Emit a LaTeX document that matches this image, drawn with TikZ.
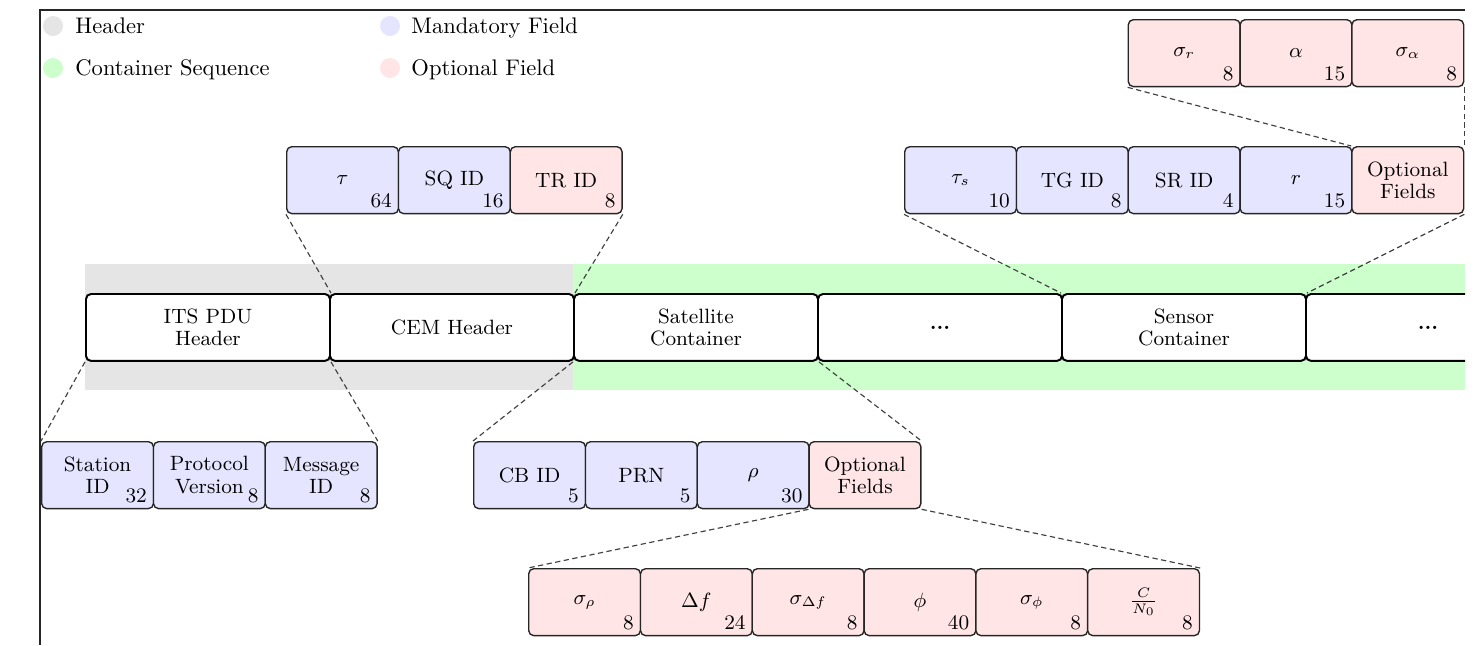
\documentclass[tikz,border=0pt]{standalone}
\usepackage{amsmath}
\tikzset{
  fieldbox/.style={draw=black!85, line width=0.6pt, rounded corners=2.2pt,
    minimum width=48.6pt, minimum height=29.1pt, inner sep=0pt,
    align=center, anchor=north west, font=\fontsize{9}{9.7}\selectfont},
  mand/.style={fieldbox, fill=blue!10},
  opt/.style={fieldbox, fill=red!10},
  seg/.style={fieldbox, fill=white, draw=black, line width=0.85pt,
    minimum width=106.1pt},
  bits/.style={label={[anchor=south east, inner xsep=3pt, inner ysep=2.6pt,
    font=\fontsize{9}{9.7}\selectfont]south east:#1}},
  zoomline/.style={black!75, line width=0.5pt, dash pattern=on 2.3pt off 1.5pt},
  legdot/.style={circle, minimum size=8.7pt, inner sep=0pt},
  legtext/.style={anchor=base west, inner sep=0pt, font=\fontsize{9.8}{12}\selectfont},
}
\begin{document}
\begin{tikzpicture}[x=0.4348pt, y=-0.4348pt]
\useasboundingbox (0,0) rectangle (1475,645);
\begin{scope}
\clip (0,0) rectangle (1465,645);

% frame
\draw[black!85, line width=0.8pt] (40,645) -- (40,10) -- (1465,10);

% legend
\node[legdot, fill=gray!20]  (lgh) at (53,26) {};
\node[legtext] (lght) at (75,33) {Header};
\node[legdot, fill=green!20] (lgc) at (53,68) {};
\node[legtext] (lgct) at (75,75) {Container Sequence};
\node[legdot, fill=blue!10]  (lgm) at (390,26) {};
\node[legtext] (lgmt) at (411,33) {Mandatory Field};
\node[legdot, fill=red!10]   (lgo) at (390,68) {};
\node[legtext] (lgot) at (411,75) {Optional Field};

% background bands
\fill[gray!20]  (85,264) rectangle (573,390);
\fill[green!20] (573,264) rectangle (1465,390);

% message segments
\node[seg] (m1) at (85,293)   {ITS PDU\\Header};
\node[seg] (m2) at (329,293)  {CEM Header};
\node[seg] (m3) at (573,293)  {Satellite\\Container};
\node[seg] (m4) at (817,293)  {\textbf{...}};
\node[seg] (m5) at (1061,293) {Sensor\\Container};
\node[seg] (m6) at (1305,293) {\textbf{...}};

% CEM header fields
\node[mand, bits=64] (tau)  at (286,146)   {$\tau$};
\node[mand, bits=16] (sqid) at (397.8,146) {SQ ID};
\node[opt,  bits=8]  (trid) at (509.6,146) {TR ID};

% sensor container fields
\node[mand, bits=10] (taus) at (904,146)    {$\tau_s$};
\node[mand, bits=8]  (tgid) at (1015.8,146) {TG ID};
\node[mand, bits=4]  (srid) at (1127.6,146) {SR ID};
\node[mand, bits=15] (rng)  at (1239.4,146) {$r$};
\node[opt]           (sopt) at (1351.2,146) {Optional\\Fields};

% sensor optional fields
\node[opt, bits=8]  (sigr) at (1127.6,19) {$\sigma_r$};
\node[opt, bits=15] (alp)  at (1239.4,19) {$\alpha$};
\node[opt, bits=8]  (siga) at (1351.2,19) {$\sigma_\alpha$};

% ITS PDU header fields
\node[mand, bits=32] (stid)  at (41,441)    {Station\\ID};
\node[mand, bits=8]  (prot)  at (152.8,441) {Protocol\\Version};
\node[mand, bits=8]  (msgid) at (264.6,441) {Message\\ID};

% satellite container fields
\node[mand, bits=5]  (cbid)   at (473,441)   {CB ID};
\node[mand, bits=5]  (prn)    at (584.8,441) {PRN};
\node[mand, bits=30] (rho)    at (696.6,441) {$\rho$};
\node[opt]           (satopt) at (808.4,441) {Optional\\Fields};

% satellite optional fields
\node[opt, bits=8]  (sigrho) at (528,568)    {$\sigma_\rho$};
\node[opt, bits=24] (df)     at (639.8,568)  {$\Delta f$};
\node[opt, bits=8]  (sigdf)  at (751.6,568)  {$\sigma_{\Delta f}$};
\node[opt, bits=40] (phi)    at (863.4,568)  {$\phi$};
\node[opt, bits=8]  (sigphi) at (975.2,568)  {$\sigma_\phi$};
\node[opt, bits=8]  (cn0)    at (1087,568)   {$\frac{C}{N_0}$};

% expansion lines
\draw[zoomline] (tau.south west)    -- (m1.north east);
\draw[zoomline] (trid.south east)   -- (m2.north east);
\draw[zoomline] (taus.south west)   -- (m5.north west);
\draw[zoomline] (sopt.south east)   -- (m5.north east);
\draw[zoomline] (sigr.south west)   -- (sopt.north west);
\draw[zoomline] (siga.south east)   -- (sopt.north east);
\draw[zoomline] (m1.south west)     -- (stid.north west);
\draw[zoomline] (m1.south east)     -- (msgid.north east);
\draw[zoomline] (m3.south west)     -- (cbid.north west);
\draw[zoomline] (m3.south east)     -- (satopt.north east);
\draw[zoomline] (satopt.south west) -- (sigrho.north west);
\draw[zoomline] (satopt.south east) -- (cn0.north east);
\end{scope}
\end{tikzpicture}
\end{document}
